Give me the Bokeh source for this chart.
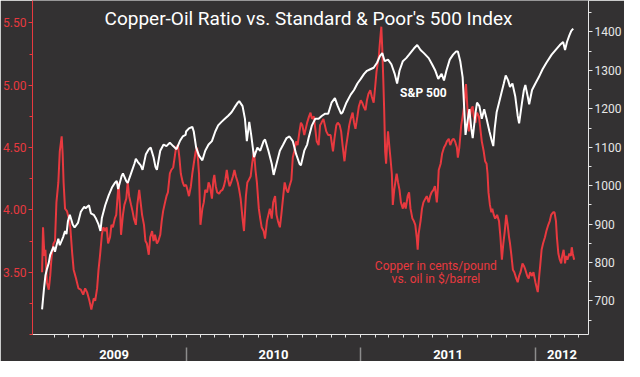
import pandas as pd
from bokeh.plotting import figure
from bokeh.models import (Range1d, LinearAxis, DatetimeAxis, FixedTicker, Label,
                          CustomJSTickFormatter, NumeralTickFormatter)
from bokeh.embed import file_html
from bokeh.resources import INLINE

# ---------------- data ----------------
spx_dates = [
    "2009-03-06", "2009-03-10", "2009-03-13", "2009-03-16", "2009-03-20", "2009-03-23", "2009-03-27", "2009-03-30",
    "2009-04-02", "2009-04-06", "2009-04-09", "2009-04-12", "2009-04-16", "2009-04-19", "2009-04-23", "2009-04-26",
    "2009-04-29", "2009-05-03", "2009-05-06", "2009-05-09", "2009-05-13", "2009-05-20", "2009-05-26", "2009-06-02",
    "2009-06-05", "2009-06-12", "2009-06-16", "2009-06-22", "2009-06-26", "2009-07-02", "2009-07-06", "2009-07-09",
    "2009-07-16", "2009-07-23", "2009-07-30", "2009-08-05", "2009-08-09", "2009-08-12", "2009-08-19", "2009-08-22",
    "2009-08-29", "2009-09-01", "2009-09-08", "2009-09-15", "2009-09-18", "2009-09-22", "2009-09-28", "2009-10-02",
    "2009-10-09", "2009-10-15", "2009-10-19", "2009-10-25", "2009-10-29", "2009-11-01", "2009-11-08", "2009-11-15",
    "2009-11-21", "2009-11-28", "2009-12-05", "2009-12-12", "2009-12-19", "2009-12-25", "2009-12-31",
    "2010-01-01", "2010-01-07", "2010-01-14", "2010-01-17", "2010-01-22", "2010-01-28", "2010-02-04", "2010-02-10",
    "2010-02-17", "2010-02-24", "2010-03-03", "2010-03-09", "2010-03-16", "2010-03-23", "2010-03-30", "2010-04-06",
    "2010-04-12", "2010-04-19", "2010-04-22", "2010-04-29", "2010-05-04", "2010-05-08", "2010-05-13", "2010-05-17",
    "2010-05-23", "2010-05-30", "2010-06-05", "2010-06-12", "2010-06-15", "2010-06-22", "2010-06-29", "2010-07-03",
    "2010-07-09", "2010-07-16", "2010-07-23", "2010-07-30", "2010-08-05", "2010-08-12", "2010-08-19", "2010-08-26",
    "2010-08-29", "2010-09-05", "2010-09-11", "2010-09-14", "2010-09-21", "2010-09-28", "2010-10-05", "2010-10-12",
    "2010-10-18", "2010-10-25", "2010-11-01", "2010-11-08", "2010-11-14", "2010-11-21", "2010-11-24", "2010-12-02",
    "2010-12-11", "2010-12-18", "2010-12-25",
    "2011-01-01", "2011-01-08", "2011-01-14", "2011-01-21", "2011-01-28", "2011-02-04", "2011-02-10", "2011-02-15",
    "2011-02-20", "2011-02-27", "2011-03-06", "2011-03-13", "2011-03-18", "2011-03-23", "2011-03-30", "2011-04-06",
    "2011-04-12", "2011-04-22", "2011-04-29", "2011-05-06", "2011-05-13", "2011-05-23", "2011-05-30", "2011-06-06",
    "2011-06-12", "2011-06-19", "2011-06-24", "2011-06-29", "2011-07-06", "2011-07-13", "2011-07-19", "2011-07-23",
    "2011-07-28", "2011-08-02", "2011-08-05", "2011-08-08", "2011-08-12", "2011-08-16", "2011-08-20", "2011-08-23",
    "2011-08-29", "2011-09-01", "2011-09-06", "2011-09-11", "2011-09-16", "2011-09-21", "2011-09-27", "2011-10-02",
    "2011-10-05", "2011-10-08", "2011-10-12", "2011-10-17", "2011-10-22", "2011-10-27", "2011-10-31", "2011-11-05",
    "2011-11-09", "2011-11-14", "2011-11-20", "2011-11-25", "2011-11-28", "2011-12-04", "2011-12-08", "2011-12-11",
    "2011-12-16", "2011-12-19", "2011-12-25",
    "2012-01-01", "2012-01-08", "2012-01-16", "2012-01-24", "2012-02-04", "2012-02-12", "2012-02-21", "2012-02-28",
    "2012-03-03", "2012-03-07", "2012-03-12", "2012-03-16", "2012-03-20",
]
spx_values = [
    678, 732, 766, 782, 799, 820, 832, 841,
    828, 849, 862, 845, 857, 866, 882, 874,
    907, 924, 912, 899, 891, 903, 932, 945,
    941, 949, 928, 924, 916, 899, 882, 916,
    949, 974, 995, 1007, 1012, 991, 1024, 1032,
    1012, 1007, 1032, 1057, 1070, 1062, 1053, 1041,
    1082, 1095, 1099, 1074, 1049, 1041, 1091, 1107,
    1103, 1112, 1103, 1095, 1116, 1128, 1132,
    1141, 1149, 1153, 1141, 1099, 1078, 1066, 1091,
    1107, 1116, 1141, 1157, 1166, 1174, 1182, 1191,
    1203, 1216, 1220, 1207, 1174, 1116, 1166, 1132,
    1074, 1099, 1091, 1116, 1120, 1091, 1057, 1028,
    1057, 1091, 1107, 1124, 1128, 1116, 1082, 1057,
    1053, 1091, 1107, 1124, 1157, 1174, 1174, 1182,
    1187, 1187, 1216, 1228, 1207, 1187, 1191, 1216,
    1237, 1249, 1266,
    1278, 1291, 1299, 1303, 1307, 1320, 1337, 1345,
    1324, 1328, 1316, 1291, 1266, 1299, 1324, 1332,
    1341, 1357, 1366, 1353, 1345, 1332, 1316, 1299,
    1278, 1291, 1274, 1299, 1328, 1341, 1349, 1349,
    1324, 1282, 1207, 1132, 1166, 1199, 1149, 1124,
    1191, 1216, 1207, 1174, 1199, 1174, 1141, 1116,
    1103, 1149, 1191, 1216, 1241, 1266, 1287, 1274,
    1257, 1266, 1232, 1182, 1162, 1216, 1249, 1262,
    1232, 1212, 1249,
    1266, 1282, 1303, 1320, 1341, 1353, 1366, 1374,
    1353, 1374, 1391, 1403, 1409,
]

ratio_dates = [
    "2009-03-06", "2009-03-08", "2009-03-11", "2009-03-13", "2009-03-16", "2009-03-20", "2009-03-23", "2009-03-26",
    "2009-03-30", "2009-04-02", "2009-04-05", "2009-04-09", "2009-04-12", "2009-04-16", "2009-04-18", "2009-04-20",
    "2009-04-23", "2009-04-27", "2009-05-01", "2009-05-04", "2009-05-08", "2009-05-11", "2009-05-16", "2009-05-21",
    "2009-05-26", "2009-05-31", "2009-06-04", "2009-06-08", "2009-06-13", "2009-06-17", "2009-06-22", "2009-06-25",
    "2009-06-29", "2009-07-02", "2009-07-05", "2009-07-09", "2009-07-12", "2009-07-16", "2009-07-19", "2009-07-22",
    "2009-07-26", "2009-07-29", "2009-08-01", "2009-08-05", "2009-08-08", "2009-08-13", "2009-08-16", "2009-08-18",
    "2009-08-22", "2009-08-25", "2009-08-29", "2009-09-01", "2009-09-04", "2009-09-08", "2009-09-11", "2009-09-14",
    "2009-09-18", "2009-09-21", "2009-09-25", "2009-09-28", "2009-10-01", "2009-10-05", "2009-10-08", "2009-10-11",
    "2009-10-15", "2009-10-18", "2009-10-22", "2009-10-25", "2009-10-28", "2009-11-01", "2009-11-04", "2009-11-08",
    "2009-11-11", "2009-11-14", "2009-11-18", "2009-11-21", "2009-11-24", "2009-11-28", "2009-12-01", "2009-12-05",
    "2009-12-08", "2009-12-11", "2009-12-15", "2009-12-18", "2009-12-21", "2009-12-25", "2009-12-28",
    "2010-01-01", "2010-01-04", "2010-01-07", "2010-01-11", "2010-01-14", "2010-01-17", "2010-01-21", "2010-01-24",
    "2010-01-28", "2010-01-31", "2010-02-04", "2010-02-07", "2010-02-10", "2010-02-14", "2010-02-17", "2010-02-20",
    "2010-02-24", "2010-02-27", "2010-03-01", "2010-03-04", "2010-03-07", "2010-03-11", "2010-03-14", "2010-03-18",
    "2010-03-21", "2010-03-24", "2010-03-27", "2010-03-30", "2010-04-02", "2010-04-05", "2010-04-09", "2010-04-12",
    "2010-04-15", "2010-04-19", "2010-04-22", "2010-04-25", "2010-04-29", "2010-05-02", "2010-05-06", "2010-05-09",
    "2010-05-12", "2010-05-16", "2010-05-19", "2010-05-23", "2010-05-26", "2010-05-29", "2010-06-02", "2010-06-05",
    "2010-06-08", "2010-06-12", "2010-06-15", "2010-06-19", "2010-06-22", "2010-06-25", "2010-06-29", "2010-07-02",
    "2010-07-06", "2010-07-09", "2010-07-12", "2010-07-16", "2010-07-19", "2010-07-23", "2010-07-26", "2010-07-30",
    "2010-08-02", "2010-08-05", "2010-08-09", "2010-08-12", "2010-08-15", "2010-08-19", "2010-08-22", "2010-08-26",
    "2010-08-29", "2010-09-01", "2010-09-05", "2010-09-08", "2010-09-11", "2010-09-15", "2010-09-18", "2010-09-21",
    "2010-09-25", "2010-09-28", "2010-10-01", "2010-10-05", "2010-10-08", "2010-10-11", "2010-10-15", "2010-10-18",
    "2010-10-21", "2010-10-25", "2010-10-30", "2010-11-04", "2010-11-07", "2010-11-11", "2010-11-14", "2010-11-18",
    "2010-11-21", "2010-11-24", "2010-11-28", "2010-12-01", "2010-12-05", "2010-12-08", "2010-12-11", "2010-12-15",
    "2010-12-18", "2010-12-21", "2010-12-25", "2010-12-28",
    "2011-01-01", "2011-01-04", "2011-01-07", "2011-01-11", "2011-01-14", "2011-01-17", "2011-01-21", "2011-01-24",
    "2011-01-28", "2011-01-31", "2011-02-03", "2011-02-06", "2011-02-08", "2011-02-10", "2011-02-13", "2011-02-15",
    "2011-02-17", "2011-02-19", "2011-02-21", "2011-02-23", "2011-02-25", "2011-02-27", "2011-03-02", "2011-03-04",
    "2011-03-07", "2011-03-09", "2011-03-12", "2011-03-15", "2011-03-17", "2011-03-20", "2011-03-23", "2011-03-26",
    "2011-03-30", "2011-04-02", "2011-04-05", "2011-04-09", "2011-04-12", "2011-04-15", "2011-04-19", "2011-04-22",
    "2011-04-25", "2011-04-28", "2011-04-30", "2011-05-02", "2011-05-06", "2011-05-09", "2011-05-12", "2011-05-16",
    "2011-05-19", "2011-05-23", "2011-05-26", "2011-05-29", "2011-06-02", "2011-06-05", "2011-06-09", "2011-06-11",
    "2011-06-13", "2011-06-17", "2011-06-20", "2011-06-24", "2011-06-27", "2011-06-30", "2011-07-04", "2011-07-07",
    "2011-07-11", "2011-07-14", "2011-07-17", "2011-07-21", "2011-07-23", "2011-07-26", "2011-07-30", "2011-08-02",
    "2011-08-05", "2011-08-07", "2011-08-09", "2011-08-11", "2011-08-13", "2011-08-15", "2011-08-17", "2011-08-20",
    "2011-08-23", "2011-08-25", "2011-08-29", "2011-09-01", "2011-09-05", "2011-09-08", "2011-09-11", "2011-09-15",
    "2011-09-18", "2011-09-21", "2011-09-23", "2011-09-25", "2011-09-28", "2011-10-01", "2011-10-03", "2011-10-06",
    "2011-10-09", "2011-10-13", "2011-10-17", "2011-10-20", "2011-10-23", "2011-10-26", "2011-10-29", "2011-11-01",
    "2011-11-04", "2011-11-07", "2011-11-09", "2011-11-12", "2011-11-15", "2011-11-18", "2011-11-22", "2011-11-25",
    "2011-11-28", "2011-12-01", "2011-12-05", "2011-12-08", "2011-12-11", "2011-12-15", "2011-12-18", "2011-12-21",
    "2011-12-25", "2011-12-28",
    "2012-01-01", "2012-01-04", "2012-01-06", "2012-01-09", "2012-01-11", "2012-01-14", "2012-01-17", "2012-01-21",
    "2012-01-24", "2012-01-28", "2012-01-31", "2012-02-03", "2012-02-07", "2012-02-10", "2012-02-13", "2012-02-15",
    "2012-02-18", "2012-02-21", "2012-02-24", "2012-02-26", "2012-02-29", "2012-03-03", "2012-03-05", "2012-03-08",
    "2012-03-12", "2012-03-15", "2012-03-17", "2012-03-19", "2012-03-22",
]
ratio_values = [
    3.50, 3.86, 3.63, 3.68, 3.42, 3.36, 3.47, 3.63,
    3.73, 3.75, 4.06, 4.22, 4.47, 4.59, 4.45, 4.22,
    4.01, 3.99, 3.93, 3.86, 3.65, 3.52, 3.45, 3.37,
    3.36, 3.32, 3.37, 3.34, 3.27, 3.20, 3.29, 3.27,
    3.37, 3.52, 3.63, 3.80, 3.86, 3.83, 3.86, 3.73,
    3.78, 3.88, 3.86, 3.93, 3.96, 4.22, 4.01, 3.80,
    3.96, 4.04, 4.09, 4.22, 4.11, 4.04, 3.99, 3.93,
    3.88, 4.04, 4.16, 4.06, 3.96, 3.88, 3.75, 3.73,
    3.64, 3.78, 3.83, 3.75, 3.80, 3.73, 3.75, 3.80,
    3.91, 3.99, 4.06, 4.11, 4.14, 4.29, 4.32, 4.34,
    4.42, 4.50, 4.52, 4.42, 4.29, 4.22, 4.19,
    4.20, 4.16, 4.11, 4.19, 4.29, 4.37, 4.47, 4.50,
    4.29, 3.88, 4.01, 4.06, 4.16, 4.14, 4.22, 4.19,
    4.09, 4.24, 4.28, 4.19, 4.14, 4.13, 4.15, 4.16,
    4.19, 4.24, 4.32, 4.24, 4.19, 4.22, 4.27, 4.32,
    4.27, 4.22, 4.16, 4.09, 3.93, 3.83, 4.11, 4.22,
    4.24, 4.27, 4.37, 4.47, 4.32, 4.22, 4.01, 3.93,
    3.86, 3.83, 3.77, 3.91, 3.96, 4.01, 3.93, 4.06,
    4.11, 3.96, 3.91, 3.86, 3.96, 4.11, 4.22, 4.16,
    4.14, 4.19, 4.24, 4.42, 4.47, 4.55, 4.52, 4.63,
    4.70, 4.68, 4.60, 4.65, 4.70, 4.75, 4.78, 4.73,
    4.75, 4.65, 4.55, 4.52, 4.68, 4.70, 4.73, 4.68,
    4.63, 4.60, 4.60, 4.47, 4.57, 4.68, 4.70, 4.68,
    4.63, 4.52, 4.39, 4.50, 4.60, 4.68, 4.73, 4.78,
    4.70, 4.65, 4.75, 4.83,
    4.88, 4.86, 4.83, 4.80, 4.88, 4.93, 4.96, 4.91,
    4.86, 4.98, 5.11, 5.19, 5.24, 5.34, 5.47, 5.29,
    5.06, 4.80, 4.47, 4.37, 4.52, 4.63, 4.50, 4.42,
    4.29, 4.04, 4.16, 4.24, 4.29, 4.22, 4.16, 4.06,
    4.01, 4.06, 4.01, 4.11, 4.14, 4.01, 3.93, 3.91,
    3.88, 3.78, 3.68, 3.81, 3.91, 4.01, 4.06, 4.09,
    4.11, 4.06, 4.11, 4.14, 4.16, 4.19, 4.06, 4.16,
    4.32, 4.37, 4.45, 4.50, 4.52, 4.55, 4.57, 4.52,
    4.56, 4.57, 4.55, 4.50, 4.42, 4.50, 4.68, 4.75,
    4.83, 4.93, 5.01, 4.88, 4.75, 4.63, 4.73, 4.81,
    4.83, 4.75, 4.70, 4.78, 4.75, 4.65, 4.55, 4.47,
    4.39, 4.37, 4.29, 4.14, 4.04, 3.98, 4.01, 3.96,
    3.93, 3.96, 3.91, 3.78, 3.60, 3.73, 3.83, 3.96,
    3.88, 3.78, 3.73, 3.63, 3.52, 3.50, 3.45, 3.42,
    3.47, 3.50, 3.57, 3.55, 3.52, 3.47, 3.45, 3.50,
    3.47, 3.50,
    3.42, 3.37, 3.34, 3.47, 3.55, 3.68, 3.73, 3.78,
    3.83, 3.88, 3.91, 3.96, 3.98, 3.98, 3.91, 3.78,
    3.65, 3.60, 3.57, 3.63, 3.68, 3.57, 3.63, 3.60,
    3.65, 3.63, 3.70, 3.65, 3.60,
]

left_ticks = [3.5, 4.0, 4.5, 5.0, 5.5]
left_minor_ticks = [3.0, 3.25, 3.5, 3.75, 4.0, 4.25, 4.5, 4.75, 5.0, 5.25, 5.5]
right_ticks = [700, 800, 900, 1000, 1100, 1200, 1300, 1400]
right_minor_ticks = [650, 700, 750, 800, 850, 900, 950, 1000, 1050, 1100, 1150,
                     1200, 1250, 1300, 1350, 1400, 1450]
years = [2009, 2010, 2011, 2012]

title_text = "Copper-Oil Ratio vs. Standard & Poor's 500 Index"
spx_label = "S&P 500"
ratio_label_lines = ["Copper in cents/pound", "vs. oil in $/barrel"]

# ---------------- styling ----------------
BG = "#333132"
RED = "#e8393f"
WHITE = "#ffffff"
AXIS_W = "#e6e6e6"
FONT = "Roboto"


def ms(t):
    return pd.Timestamp(t).value / 1e6


x_start = pd.Timestamp("2009-02-14")
x_end = pd.Timestamp("2012-04-21")

spx_dt = pd.to_datetime(spx_dates)
ratio_dt = pd.to_datetime(ratio_dates)

p = figure(width=624, height=361, x_axis_type="datetime",
           x_range=Range1d(ms(x_start), ms(x_end)),
           y_range=Range1d(3.0, 5.68),
           output_backend="svg", toolbar_location=None, title=None,
           min_border_left=31, min_border_right=34, min_border_top=0, min_border_bottom=0,
           background_fill_color=BG, border_fill_color=BG, outline_line_color=None)
p.extra_y_ranges = {"spx": Range1d(612.5, 1482)}
p.grid.visible = False

p.line(x=ratio_dt, y=ratio_values, line_color=RED, line_width=2)
p.line(x=spx_dt, y=spx_values, line_color=WHITE, line_width=2, y_range_name="spx")

# left axis (ratio)
ly = p.yaxis[0]
ly.ticker = FixedTicker(ticks=left_ticks, minor_ticks=left_minor_ticks)
ly.formatter = NumeralTickFormatter(format="0.00")
ly.axis_line_color = RED
ly.major_tick_line_color = RED
ly.minor_tick_line_color = RED
ly.major_tick_in = 0
ly.major_tick_out = 4
ly.minor_tick_in = 0
ly.minor_tick_out = 3
ly.major_label_standoff = 2
ly.major_label_text_color = RED
ly.major_label_text_font = FONT
ly.major_label_text_font_size = "12px"

# right axis (S&P)
ry = LinearAxis(y_range_name="spx",
                ticker=FixedTicker(ticks=right_ticks, minor_ticks=right_minor_ticks))
ry.axis_line_color = AXIS_W
ry.major_tick_line_color = AXIS_W
ry.minor_tick_line_color = AXIS_W
ry.major_tick_in = 0
ry.major_tick_out = 4
ry.minor_tick_in = 0
ry.minor_tick_out = 3
ry.major_label_standoff = 2
ry.major_label_text_color = AXIS_W
ry.major_label_text_font = FONT
ry.major_label_text_font_size = "12px"
p.add_layout(ry, "right")

# bottom axis: monthly ticks + year labels
first_date = min(spx_dt.min(), ratio_dt.min())
year_centers = []
for yr in years:
    a = max(pd.Timestamp(f"{yr}-01-01"), first_date)
    b = min(pd.Timestamp(f"{yr + 1}-01-01"), x_end)
    year_centers.append(ms(a + (b - a) / 2))
year_bounds = [ms(f"{yr}-01-01") for yr in years[1:]]
month_ticks = [ms(t) for t in pd.date_range("2009-04-01", "2012-04-01", freq="MS")]

bx = p.xaxis[0]
bx.ticker = FixedTicker(ticks=year_centers, minor_ticks=month_ticks)
bx.formatter = CustomJSTickFormatter(code="return String(new Date(tick).getUTCFullYear());")
bx.axis_line_color = AXIS_W
bx.major_tick_line_color = None
bx.major_tick_in = 0
bx.major_tick_out = 0
bx.minor_tick_line_color = AXIS_W
bx.minor_tick_in = 0
bx.minor_tick_out = 3
bx.major_label_standoff = 12
bx.major_label_text_color = WHITE
bx.major_label_text_font = FONT
bx.major_label_text_font_style = "bold"
bx.major_label_text_font_size = "13px"

sep = DatetimeAxis(ticker=FixedTicker(ticks=year_bounds),
                   formatter=CustomJSTickFormatter(code="return '';"))
sep.axis_line_color = None
sep.major_tick_line_color = "#8c8c8c"
sep.major_tick_line_width = 1.5
sep.major_tick_in = 14
sep.major_tick_out = 0
sep.minor_tick_line_color = None
sep.major_label_standoff = 0
sep.major_label_text_font_size = "1px"
p.add_layout(sep, "below")

# annotations
p.add_layout(Label(x=276, y=5.68, x_units="screen", y_units="data", y_offset=-6,
                   text=title_text, text_color=WHITE, text_font=FONT,
                   text_font_size="19px", text_align="center", text_baseline="top"))
p.add_layout(Label(x=ms("2011-05-12"), y=1240, y_range_name="spx", text=spx_label,
                   text_color=WHITE, text_font=FONT, text_font_style="bold",
                   text_font_size="12px", text_align="center", text_baseline="middle"))
for line_text, yv in zip(ratio_label_lines, [3.546, 3.446]):
    p.add_layout(Label(x=ms("2011-06-07"), y=yv, text=line_text,
                       text_color=RED, text_font=FONT, text_font_size="12px",
                       text_align="center", text_baseline="middle"))

open("out.html", "w").write(file_html(p, INLINE))
